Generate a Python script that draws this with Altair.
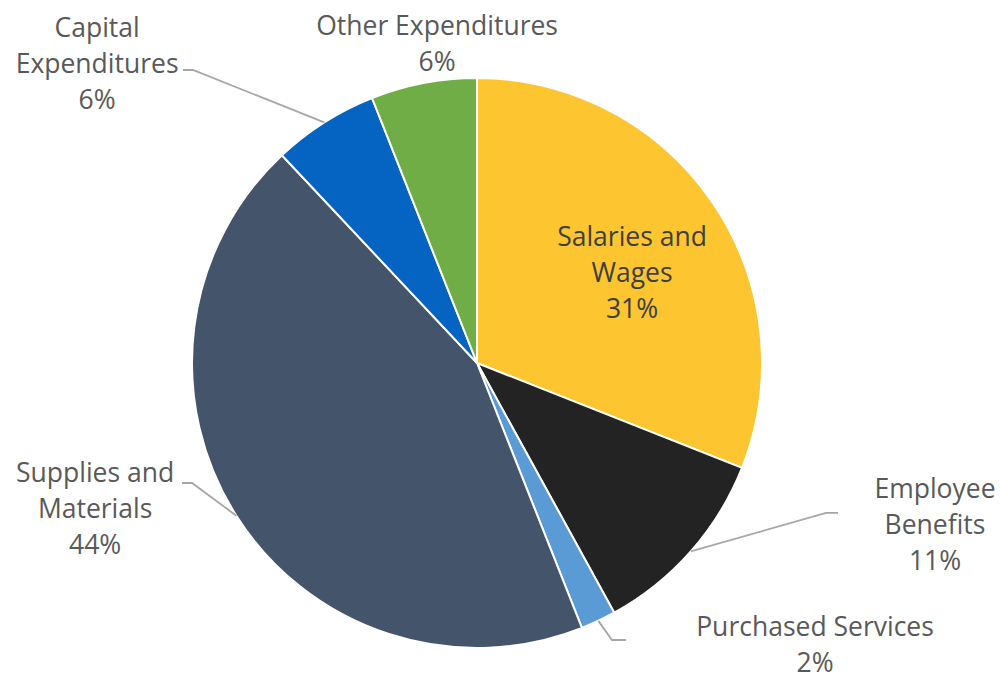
import math
import altair as alt
import pandas as pd

# ---- data ----
categories = ["Salaries and Wages", "Employee Benefits", "Purchased Services",
              "Supplies and Materials", "Capital Expenditures", "Other Expenditures"]
shares = [31, 11, 2, 44, 6, 6]
label_lines = [["Salaries and", "Wages", "31%"],
               ["Employee", "Benefits", "11%"],
               ["Purchased Services", "2%"],
               ["Supplies and", "Materials", "44%"],
               ["Capital", "Expenditures", "6%"],
               ["Other Expenditures", "6%"]]
colors = ["#FDC52F", "#232323", "#5B9BD5", "#44546A", "#0563C1", "#70AD47"]

# ---- layout (in units of pie radius, relative to pie centre, y up) ----
R = 285
W, H = 988, 673
CX, CY = 469, 355
# position of first text line of each label
label_x = [0.544, 1.607, 1.186, -1.340, -1.333, -0.140]
label_y = [0.4386, -0.4456, -0.9298, -0.3895, 1.1719, 1.1789]
label_color = ["#3F3F3F", "#595959", "#595959", "#595959", "#595959", "#595959"]
# leader elbows / ends (None = no leader)
elbow = [None, (1.2246, -0.526), (0.4737, -0.972), (-1.0, -0.421), (-0.9965, 1.028), None]
end = [None, (1.2667, -0.526), (0.5228, -0.972), (-1.035, -0.421), (-1.0316, 1.028), None]

df = pd.DataFrame({"category": categories, "share": shares, "idx": range(len(shares))})

labels = pd.DataFrame({
    "category": categories,
    "text": label_lines,
    "x": label_x,
    "y": label_y,
    "col": label_color,
})

total = sum(shares)
rows = []
cum = 0
for i, s in enumerate(shares):
    mid = (cum + s / 2) / total * 2 * math.pi
    cum += s
    if elbow[i] is None:
        continue
    pts = [(math.sin(mid), math.cos(mid)), elbow[i], end[i]]
    for k, (px, py) in enumerate(pts):
        rows.append({"category": categories[i], "k": k, "x": px, "y": py})
leaders = pd.DataFrame(rows)

xs = alt.Scale(domain=[-CX / R, (W - CX) / R], nice=False, zero=False)
ys = alt.Scale(domain=[-(H - CY) / R, CY / R], nice=False, zero=False)

pie = alt.Chart(df).mark_arc(outerRadius=R, stroke="white", strokeWidth=2).encode(
    theta=alt.Theta("share:Q", stack=True),
    order=alt.Order("idx:Q"),
    color=alt.Color("category:N", scale=alt.Scale(domain=categories, range=colors), legend=None),
    x=alt.datum(0, scale=xs, axis=None),
    y=alt.datum(0, scale=ys, axis=None),
)

lines = alt.Chart(leaders).mark_line(color="#A6A6A6", strokeWidth=1.8).encode(
    x=alt.X("x:Q", scale=xs, axis=None),
    y=alt.Y("y:Q", scale=ys, axis=None),
    detail="category:N",
    order="k:Q",
)

text = alt.Chart(labels).mark_text(
    font="Open Sans", fontSize=26.5, lineHeight=36, align="center", baseline="middle"
).encode(
    x=alt.X("x:Q", scale=xs, axis=None),
    y=alt.Y("y:Q", scale=ys, axis=None),
    text="text",
    color=alt.Color("col:N", scale=None),
)

chart = alt.layer(pie, lines, text).properties(
    width=W, height=H, padding=0, autosize=alt.AutoSizeParams(type="none")
).configure_view(stroke=None)

chart.save("out.html", embed_options={"renderer": "svg", "actions": False})
